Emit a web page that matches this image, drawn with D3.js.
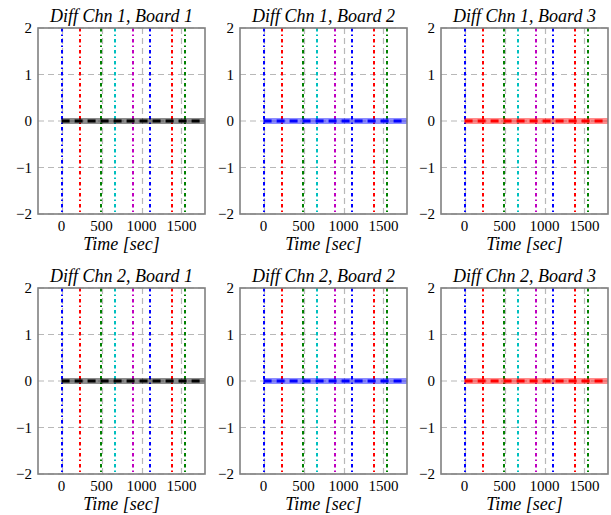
<!DOCTYPE html>
<html>
<head>
<meta charset="utf-8">
<script src="https://cdn.jsdelivr.net/npm/d3@7"></script>
<style>
  body { margin: 0; background: #fff; }
</style>
</head>
<body>
<svg id="chart" width="611" height="515"></svg>
<script>
// chart data
const channels = [1, 2];
const boards = [1, 2, 3];
const boardColors = ["#000000", "#0000ff", "#ff0000"];
const markerTimes = [0, 230, 494, 662, 894, 1111, 1384, 1546];
const markerColors = ["#0000ff", "#ff0000", "#008000", "#00bfbf", "#bf00bf", "#0000ff", "#ff0000", "#008000"];
const diffTimes = [0, 1800];
const diffValues = [0, 0];
const yTicks = [-2, -1, 0, 1, 2];
const xTicks = [0, 500, 1000, 1500];

const serif = "'Liberation Serif', 'Times New Roman', serif";
const svg = d3.select("#chart").style("font-family", serif);
const pw = 167, ph = 186;
const lefts = [38, 240, 441];
const tops = [28, 288];

const x = d3.scaleLinear().domain([-295, 1794]).range([0, pw]);
const y = d3.scaleLinear().domain([-2, 2]).range([ph, 0]);
const px = v => Math.round(x(v)) + 0.5;

channels.forEach((chn, r) => {
  boards.forEach((board, c) => {
    const g = svg.append("g").attr("transform", `translate(${lefts[c]},${tops[r]})`);
    const clipId = `clip-${r}-${c}`;
    g.append("clipPath").attr("id", clipId)
      .append("rect").attr("width", pw).attr("height", ph);

    // grid
    g.selectAll(".gy").data(yTicks).join("line").attr("class", "gy")
      .attr("x1", 0).attr("x2", pw)
      .attr("y1", d => y(d)).attr("y2", d => y(d))
      .attr("stroke", "#b8b8b8").attr("stroke-width", 1.2)
      .attr("stroke-dasharray", "6,4");
    g.selectAll(".gx").data(xTicks).join("line").attr("class", "gx")
      .attr("x1", d => px(d)).attr("x2", d => px(d))
      .attr("y1", 0).attr("y2", ph)
      .attr("stroke", "#b8b8b8").attr("stroke-width", 1.2)
      .attr("stroke-dasharray", "6,4");

    const plot = g.append("g").attr("clip-path", `url(#${clipId})`);

    // event markers
    plot.selectAll(".mk").data(markerTimes).join("line").attr("class", "mk")
      .attr("x1", d => Math.round(x(d))).attr("x2", d => Math.round(x(d)))
      .attr("y1", 0).attr("y2", ph)
      .attr("stroke", (d, i) => markerColors[i])
      .attr("stroke-width", 2)
      .attr("stroke-dasharray", "3.5,3,1.5,3");

    // diff trace
    const pts = diffTimes.map((t, i) => [t, diffValues[i]]);
    const line = d3.line().x(d => x(d[0])).y(d => y(d[1]));
    const col = boardColors[c];
    plot.append("path").attr("d", line(pts))
      .attr("stroke", col).attr("stroke-opacity", 0.45)
      .attr("stroke-width", 6).attr("fill", "none");
    plot.append("path").attr("d", line(pts))
      .attr("stroke", col).attr("stroke-width", 3)
      .attr("stroke-dasharray", "8,5").attr("fill", "none");

    // frame
    g.append("rect").attr("width", pw).attr("height", ph)
      .attr("fill", "none").attr("stroke", "#808080").attr("stroke-width", 1.6);

    // axes labels
    g.selectAll(".yl").data(yTicks).join("text").attr("class", "yl")
      .attr("x", -6).attr("y", d => y(d)).attr("dy", "0.35em")
      .attr("text-anchor", "end").attr("font-size", 15)
      .text(d => d < 0 ? "\u2212" + Math.abs(d) : d);
    g.selectAll(".xl").data(xTicks).join("text").attr("class", "xl")
      .attr("x", d => x(d)).attr("y", ph + 17)
      .attr("text-anchor", "middle").attr("font-size", 15)
      .text(d => d);
    g.append("text").attr("x", pw / 2).attr("y", ph + 36)
      .attr("text-anchor", "middle").attr("font-size", 18)
      .attr("font-style", "italic").text("Time [sec]");
    g.append("text").attr("x", pw / 2).attr("y", -6)
      .attr("text-anchor", "middle").attr("font-size", 18)
      .attr("font-style", "italic")
      .text(`Diff Chn ${chn}, Board ${board}`);
  });
});
</script>
</body>
</html>
